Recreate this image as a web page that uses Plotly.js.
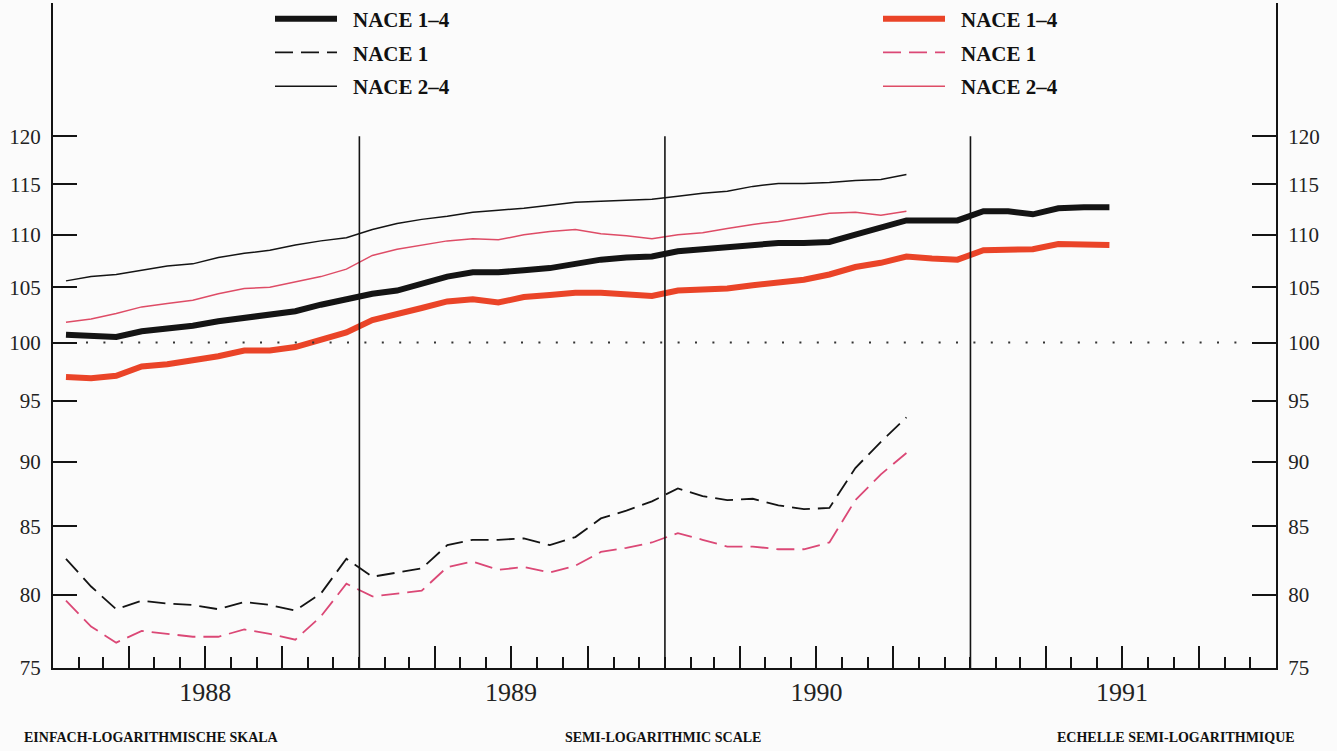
<!DOCTYPE html>
<html><head><meta charset="utf-8">
<script src="https://cdn.plot.ly/plotly-3.0.1.min.js"></script>
<style>html,body{margin:0;padding:0;background:#fbfbfb}</style>
</head><body><div id="chart" style="width:1337px;height:751px"></div>
<script>
// ---- data ----
const years = [1988, 1989, 1990, 1991];
const months = [];
for (const y of years) for (let m = 1; m <= 12; m++) months.push(y + '-' + String(m).padStart(2, '0'));

const seriesNames = ['NACE 1–4', 'NACE 1', 'NACE 2–4'];

// black series
const black_1_4 = [100.7,100.6,100.5,101.0,101.2,101.5,101.9,102.2,102.6,102.8,103.4,103.9,
  104.4,104.7,105.3,106.0,106.4,106.4,106.6,106.8,107.2,107.6,107.8,107.9,
  108.4,108.6,108.8,109.1,109.2,109.2,109.3,110.0,110.7,111.4,111.4,111.4,
  112.3,112.3,112.0,112.6,112.7,112.7];
const black_1 = [82.6,80.6,79.0,79.6,79.4,79.3,79.0,79.5,79.3,78.9,80.1,82.6,
  81.3,81.6,81.9,83.6,84.0,84.0,84.1,83.6,84.2,85.6,86.2,86.9,
  87.9,87.3,87.0,87.1,86.6,86.3,86.4,89.5,91.6,93.6];
const black_2_4 = [105.6,106.0,106.2,106.6,107.0,107.2,107.8,108.2,108.5,109.0,109.4,109.7,
  110.5,111.1,111.5,111.8,112.2,112.4,112.6,112.9,113.2,113.3,113.4,113.5,
  113.8,114.1,114.3,114.8,115.1,115.1,115.2,115.4,115.5,116.0];

// red series
const red_1_4 = [97.0,96.9,97.1,97.9,98.1,98.4,98.8,99.3,99.3,99.6,100.2,100.9,
  102.0,102.5,103.1,103.7,103.9,103.6,104.1,104.3,104.5,104.5,104.4,104.2,
  104.7,104.8,104.9,105.2,105.5,105.7,106.2,106.9,107.3,107.9,107.7,107.6,
  108.5,108.5,108.6,109.1,109.1,109.0];
const red_1 = [79.6,77.8,76.7,77.5,77.3,77.1,77.1,77.6,77.3,76.9,78.5,80.8,
  79.9,80.1,80.3,82.0,82.4,81.8,82.0,81.6,82.1,83.1,83.4,83.8,
  84.5,84.0,83.5,83.5,83.3,83.3,83.8,87.0,89.0,90.7];
const red_2_4 = [101.8,102.1,102.6,103.2,103.5,103.8,104.4,104.9,105.0,105.5,106.0,106.7,
  108.0,108.6,109.0,109.4,109.6,109.5,110.0,110.3,110.5,110.1,109.9,109.6,
  110.0,110.2,110.6,111.0,111.3,111.7,112.1,112.2,111.9,112.3];

const yTicks = [75, 80, 85, 90, 95, 100, 105, 110, 115, 120];
const refLevel = 100;
const scaleLabels = ['EINFACH-LOGARITHMISCHE SKALA', 'SEMI-LOGARITHMIC SCALE', 'ECHELLE SEMI-LOGARITHMIQUE'];

// ---- styling ----
const BLACK = '#141414';
const RED_THICK = '#ea4428';
const RED_THIN = '#de4c66';
const RED_DASH = '#db4876';
const FONT = 'Liberation Serif, DejaVu Serif, serif';

function tr(vals, name, color, width, dash, legend, yaxis, group) {
  return {
    type: 'scatter', mode: 'lines', name: name,
    x: months.slice(0, vals.length), y: vals,
    xperiod: 'M1', xperiodalignment: 'middle',
    line: {color: color, width: width, dash: dash || 'solid'},
    legend: legend, legendgroup: group, yaxis: yaxis,
    hoverinfo: 'x+y+name'
  };
}

const traces = [
  tr(black_1_4, seriesNames[0], BLACK, 6, 'solid', 'legend', 'y', 'b1'),
  tr(black_1, seriesNames[1], BLACK, 1.8, '18px,8px', 'legend', 'y', 'b2'),
  tr(black_2_4, seriesNames[2], BLACK, 1.5, 'solid', 'legend', 'y', 'b3'),
  tr(red_1_4, seriesNames[0], RED_THICK, 6, 'solid', 'legend2', 'y2', 'r1'),
  tr(red_1, seriesNames[1], RED_DASH, 1.8, '18px,8px', 'legend2', 'y2', 'r2'),
  tr(red_2_4, seriesNames[2], RED_THIN, 1.5, 'solid', 'legend2', 'y2', 'r3')
];

// quarter ticks (major) with year label at mid-year
const qVals = [], qText = [];
for (const y of years) {
  qVals.push(y + '-04-01'); qText.push('');
  qVals.push(y + '-07-01'); qText.push(String(y));
  qVals.push(y + '-10-01'); qText.push('');
}

const L = 53, R = 1276, T = 3, B = 668;
const px = v => (v - L) / (R - L);
const py = v => (B - v) / (B - T);

const shapes = [];
for (const y of years.slice(1)) {
  shapes.push({type: 'line', xref: 'x', yref: 'y', x0: y + '-01-01', x1: y + '-01-01',
    y0: yTicks[0], y1: yTicks[yTicks.length - 1], line: {color: BLACK, width: 1.6}});
}
shapes.push({type: 'line', xref: 'paper', yref: 'y', x0: px(86), x1: px(1240), y0: refLevel, y1: refLevel,
  line: {color: '#333', width: 2, dash: '2px,15.4px'}});

const yAxisBase = {
  type: 'log', range: [Math.log10(75), Math.log10(135)], autorange: false,
  tickmode: 'array', tickvals: yTicks, ticktext: yTicks.map(String),
  ticks: 'inside', ticklen: 24, tickwidth: 2, tickcolor: BLACK,
  showline: true, linewidth: 2, linecolor: BLACK,
  showgrid: false, zeroline: false,
  tickfont: {family: FONT, size: 21, color: '#222'},
  ticklabelstandoff: 6,
  fixedrange: true
};

const legendBase = {
  yanchor: 'top', xanchor: 'left', y: 1 + 4.5 / (B - T),
  bgcolor: 'rgba(0,0,0,0)', borderwidth: 0,
  font: {family: FONT, size: 21, color: '#111', weight: 'bold'},
  itemwidth: 73, tracegroupgap: 3.5
};

const layout = {
  width: 1337, height: 751,
  margin: {l: L, r: 1337 - R, t: T, b: 751 - B, autoexpand: false},
  paper_bgcolor: '#fbfbfb', plot_bgcolor: '#fbfbfb',
  showlegend: true,
  xaxis: {
    type: 'date', range: ['1988-01-01', '1992-01-01'],
    tickmode: 'array', tickvals: qVals, ticktext: qText,
    ticks: 'inside', ticklen: 22, tickwidth: 2, tickcolor: BLACK,
    showline: true, linewidth: 2, linecolor: BLACK,
    showgrid: false, zeroline: false,
    tickfont: {family: FONT, size: 26, color: '#222'},
    minor: {tick0: '1988-01-01', dtick: 'M1', ticks: 'inside', ticklen: 11, tickwidth: 2, tickcolor: BLACK, showgrid: false},
    fixedrange: true
  },
  yaxis: Object.assign({}, yAxisBase, {side: 'left'}),
  yaxis2: Object.assign({}, yAxisBase, {side: 'right', overlaying: 'y'}),
  legend: Object.assign({}, legendBase, {x: px(270)}),
  legend2: Object.assign({}, legendBase, {x: px(878)}),
  shapes: shapes,
  annotations: [
    {text: scaleLabels[0], xref: 'paper', yref: 'paper', x: px(151), y: py(738), xanchor: 'center', yanchor: 'middle', showarrow: false,
      font: {family: FONT, size: 14, color: '#111', weight: 'bold'}},
    {text: scaleLabels[1], xref: 'paper', yref: 'paper', x: px(663), y: py(738), xanchor: 'center', yanchor: 'middle', showarrow: false,
      font: {family: FONT, size: 14, color: '#111', weight: 'bold'}},
    {text: scaleLabels[2], xref: 'paper', yref: 'paper', x: px(1176), y: py(738), xanchor: 'center', yanchor: 'middle', showarrow: false,
      font: {family: FONT, size: 14, color: '#111', weight: 'bold'}}
  ]
};

Plotly.newPlot('chart', traces, layout, {displayModeBar: false}).then(gd => {
  gd.querySelectorAll('.legendlines path').forEach(p => p.setAttribute('d', 'M5,0h62'));
});
</script>
</body></html>
